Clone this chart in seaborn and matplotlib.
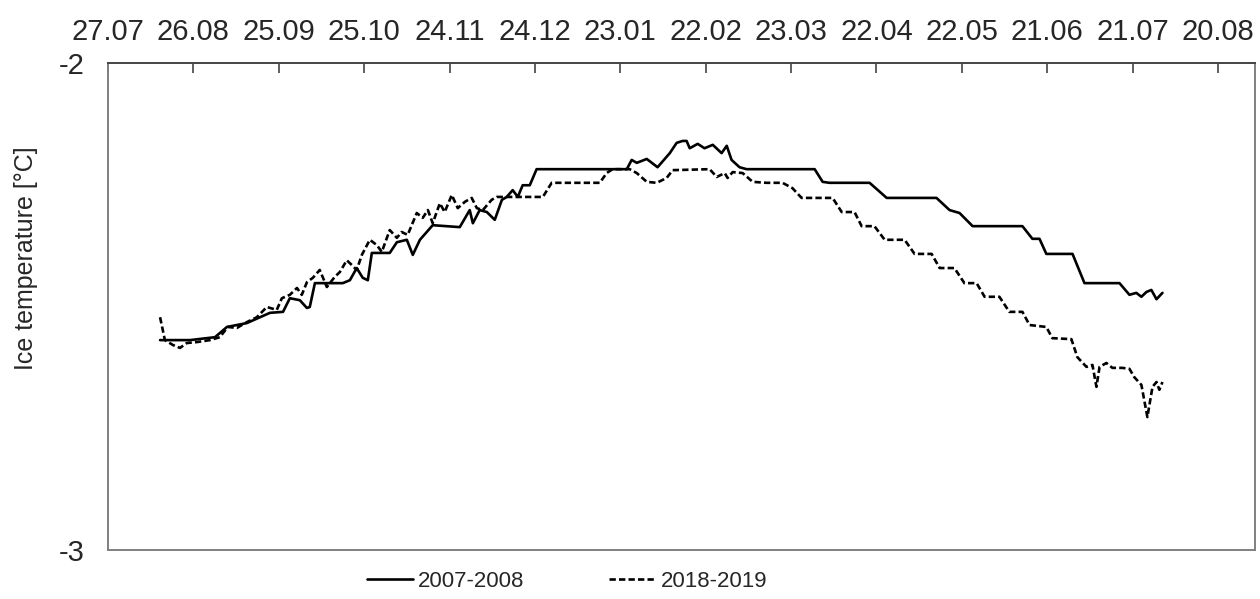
import numpy as np
import pandas as pd
import seaborn as sns
import matplotlib.pyplot as plt

# Dados (dia desde 27.07, temperatura do gelo em °C)
dias_2007 = [18.3, 26.3, 28.8, 37.6, 41.8, 48.8, 56.9, 61.5, 63.9, 67.4, 69.9, 70.9, 72.7, 82.5,
             85.0, 87.4, 89.5, 91.3, 92.7, 99.0, 101.5, 105.0, 107.1, 109.6, 112.0, 114.1, 123.6,
             127.1, 128.2, 130.6, 133.1, 135.9, 138.4, 140.1, 142.2, 144.0, 145.7, 148.2, 150.6,
             182.3, 184.0, 185.8, 189.3, 193.1, 197.4, 199.8, 201.9, 203.3, 204.4, 207.2, 209.6,
             212.5, 215.6, 217.4, 219.1, 221.9, 224.4, 248.3, 251.1, 253.5, 267.6, 273.6, 291.1,
             295.7, 299.2, 303.8, 321.3, 324.8, 327.3, 329.7, 338.9, 343.1, 355.4, 358.9, 361.3,
             363.1, 364.9, 366.6, 368.4, 370.5]
temp_2007 = [-2.569, -2.569, -2.569, -2.563, -2.542, -2.534, -2.513, -2.511, -2.483, -2.487,
             -2.503, -2.501, -2.452, -2.452, -2.446, -2.421, -2.441, -2.446, -2.390, -2.390,
             -2.368, -2.363, -2.394, -2.363, -2.347, -2.333, -2.337, -2.302, -2.329, -2.302,
             -2.306, -2.322, -2.281, -2.275, -2.261, -2.275, -2.251, -2.251, -2.218, -2.218,
             -2.199, -2.205, -2.197, -2.214, -2.185, -2.164, -2.160, -2.160, -2.175, -2.166,
             -2.175, -2.168, -2.185, -2.170, -2.199, -2.214, -2.218, -2.218, -2.244, -2.246,
             -2.246, -2.277, -2.277, -2.302, -2.308, -2.335, -2.335, -2.361, -2.361, -2.392,
             -2.392, -2.452, -2.452, -2.476, -2.472, -2.480, -2.470, -2.466, -2.485, -2.472]

dias_2018 = [18.3, 20.0, 22.8, 25.3, 27.7, 31.3, 35.8, 39.3, 42.1, 45.3, 48.8, 52.3, 55.8, 59.3,
             61.1, 63.9, 66.4, 68.1, 69.9, 72.0, 74.4, 76.9, 79.7, 81.5, 83.9, 85.7, 87.4, 89.2,
             92.0, 94.5, 96.2, 99.0, 101.5, 103.2, 105.3, 108.5, 110.6, 112.4, 114.1, 116.6,
             118.3, 120.8, 122.9, 125.4, 127.8, 129.6, 131.7, 134.8, 136.6, 152.8, 155.9, 172.8,
             175.2, 177.3, 183.3, 185.8, 189.3, 192.8, 196.3, 198.4, 211.4, 213.9, 216.7, 217.7,
             219.5, 223.0, 226.5, 231.4, 237.0, 240.5, 243.7, 254.6, 257.8, 262.3, 264.8, 269.3,
             272.9, 279.9, 283.4, 289.4, 292.2, 297.4, 300.9, 305.2, 308.0, 313.2, 316.7, 321.3,
             323.8, 329.7, 331.8, 338.5, 340.6, 343.8, 345.9, 347.3, 348.4, 350.8, 352.9, 356.4,
             358.9, 360.6, 363.1, 365.2, 367.0, 368.4, 369.4, 370.5]
temp_2018 = [-2.522, -2.569, -2.579, -2.585, -2.575, -2.573, -2.569, -2.563, -2.542, -2.544,
             -2.532, -2.522, -2.501, -2.507, -2.483, -2.476, -2.462, -2.476, -2.450, -2.441,
             -2.425, -2.460, -2.439, -2.429, -2.405, -2.415, -2.425, -2.394, -2.363, -2.374,
             -2.388, -2.343, -2.359, -2.347, -2.353, -2.308, -2.318, -2.302, -2.329, -2.288,
             -2.306, -2.271, -2.298, -2.285, -2.277, -2.298, -2.302, -2.281, -2.275, -2.275,
             -2.246, -2.246, -2.226, -2.218, -2.218, -2.226, -2.244, -2.246, -2.236, -2.220,
             -2.218, -2.234, -2.226, -2.236, -2.224, -2.226, -2.244, -2.246, -2.246, -2.257,
             -2.277, -2.277, -2.306, -2.306, -2.335, -2.335, -2.363, -2.363, -2.392, -2.392,
             -2.421, -2.421, -2.452, -2.452, -2.480, -2.480, -2.511, -2.511, -2.538, -2.542,
             -2.565, -2.567, -2.604, -2.624, -2.620, -2.665, -2.624, -2.616, -2.626, -2.626,
             -2.628, -2.645, -2.661, -2.727, -2.665, -2.655, -2.671, -2.655]

# Rótulos do eixo x (a cada 30 dias)
tick_dias = list(range(0, 391, 30))
tick_datas = ['27.07', '26.08', '25.09', '25.10', '24.11', '24.12', '23.01',
              '22.02', '23.03', '22.04', '22.05', '21.06', '21.07', '20.08']

df_2007 = pd.DataFrame({'dia': dias_2007, 'temp': temp_2007})
df_2018 = pd.DataFrame({'dia': dias_2018, 'temp': temp_2018})

sns.set_style('white')
plt.rcParams['font.family'] = ['Liberation Sans', 'DejaVu Sans']
plt.rcParams['axes.unicode_minus'] = False

fig = plt.figure(figsize=(12.6, 5.99), dpi=100)
ax = fig.add_axes([0.0857, 0.0818, 0.9103, 0.813])

sns.lineplot(data=df_2007, x='dia', y='temp', ax=ax, color='black', linewidth=1.9,
             estimator=None, label='2007-2008')
sns.lineplot(data=df_2018, x='dia', y='temp', ax=ax, color='black', linewidth=1.9,
             estimator=None, linestyle=(0, (2.4, 1.2)), label='2018-2019')

ax.set_xlim(0, 403)
ax.set_ylim(-3, -2)
ax.xaxis.tick_top()
ax.set_xticks(tick_dias)
ax.set_xticklabels(tick_datas, fontsize=21)
ax.set_yticks([-3, -2])
ax.set_yticklabels(['-3', '-2'], fontsize=21)
ax.tick_params(axis='x', direction='in', length=7, width=1.2, pad=12, color='#444444')
ax.tick_params(axis='y', direction='out', length=6, width=1.2, pad=11, color='#777777')
ax.set_xlabel('')
ax.set_ylabel('Ice temperature [°C]', fontsize=18)
ax.yaxis.set_label_coords(-0.061, 0.6)

for lado in ['left', 'bottom', 'right']:
    ax.spines[lado].set_color('#808080')
    ax.spines[lado].set_linewidth(1.4)
ax.spines['top'].set_color('#444444')
ax.spines['top'].set_linewidth(1.4)

ax.legend(loc='center', bbox_to_anchor=(0.45, 0.03), bbox_transform=fig.transFigure,
          ncol=2, frameon=False, fontsize=16, handlelength=2.1, handletextpad=0.22,
          columnspacing=3.8)

fig.savefig('out.png', dpi=100)
